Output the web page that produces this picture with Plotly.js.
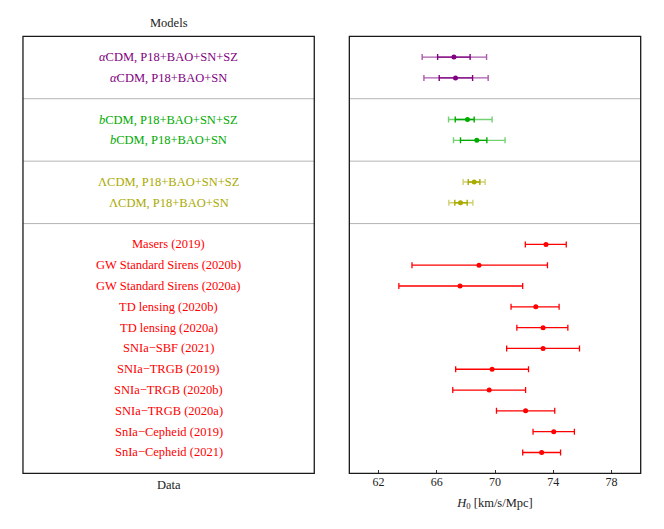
<!DOCTYPE html>
<html><head><meta charset="utf-8">
<script src="https://cdn.plot.ly/plotly-3.0.1.min.js"></script>
<style>html,body{margin:0;padding:0;background:#fff}#chart{width:664px;height:529px}</style>
</head><body><div id="chart"></div>
<script>
// ---- data ----
const modelLabels = ["<i>α</i>CDM, P18+BAO+SN+SZ", "<i>α</i>CDM, P18+BAO+SN",
  "<i>b</i>CDM, P18+BAO+SN+SZ", "<i>b</i>CDM, P18+BAO+SN",
  "ΛCDM, P18+BAO+SN+SZ", "ΛCDM, P18+BAO+SN"];
const modelRows = [1, 2, 4, 5, 7, 8];
const modelH0 = [67.18, 67.29, 68.11, 68.75, 68.57, 67.63];
const model1sigLo = [1.12, 1.12, 0.84, 1.12, 0.41, 0.39];
const model1sigHi = [1.11, 1.17, 0.46, 0.69, 0.39, 0.46];
const model2sigLo = [2.18, 2.17, 1.30, 1.60, 0.76, 0.80];
const model2sigHi = [2.24, 2.24, 1.69, 1.94, 0.75, 0.85];
const modelGroupColors = ["#800080", "#00aa00", "#aaaa00"];
const modelGroupLight = ["rgba(128,0,128,0.65)", "rgba(0,170,0,0.55)", "rgba(170,170,0,0.55)"];

const dataLabels = ["Masers (2019)", "GW Standard Sirens (2020b)", "GW Standard Sirens (2020a)",
  "TD lensing (2020b)", "TD lensing (2020a)", "SNIa−SBF (2021)", "SNIa−TRGB (2019)",
  "SNIa−TRGB (2020b)", "SNIa−TRGB (2020a)", "SnIa−Cepheid (2019)", "SnIa−Cepheid (2021)"];
const dataRows = [10, 11, 12, 13, 14, 15, 16, 17, 18, 19, 20];
const dataH0 = [73.5, 68.9, 67.6, 72.8, 73.3, 73.3, 69.8, 69.6, 72.1, 74.03, 73.2];
const dataErrLo = [1.42, 4.6, 4.2, 1.7, 1.8, 2.5, 2.5, 2.5, 2.0, 1.42, 1.3];
const dataErrHi = [1.39, 4.7, 4.3, 1.6, 1.7, 2.5, 2.5, 2.5, 2.0, 1.42, 1.3];
const separatorRows = [3, 6, 9];
const xTicks = [62, 66, 70, 74, 78];

// ---- traces ----
const traces = [];
const annotations = [];
const FONT = "Liberation Serif, DejaVu Serif, serif";
for (let g = 0; g < 3; g++) {
  const idx = [2 * g, 2 * g + 1];
  const pick = a => idx.map(i => a[i]);
  traces.push({
    type: "scatter", mode: "markers", xaxis: "x2", yaxis: "y",
    x: pick(modelH0), y: pick(modelRows),
    marker: {size: 1, color: "rgba(0,0,0,0)"},
    error_x: {type: "data", symmetric: false, array: pick(model2sigHi), arrayminus: pick(model2sigLo),
      color: modelGroupLight[g], thickness: 1.4, width: 3},
    hoverinfo: "skip", showlegend: false
  });
  traces.push({
    type: "scatter", mode: "markers", xaxis: "x2", yaxis: "y",
    x: pick(modelH0), y: pick(modelRows),
    marker: {size: 5, color: modelGroupColors[g]},
    error_x: {type: "data", symmetric: false, array: pick(model1sigHi), arrayminus: pick(model1sigLo),
      color: modelGroupColors[g], thickness: 1.4, width: 3},
    showlegend: false
  });
}
traces.push({
  type: "scatter", mode: "markers", xaxis: "x2", yaxis: "y",
  x: dataH0, y: dataRows,
  marker: {size: 5, color: "#ff0000"},
  error_x: {type: "data", symmetric: false, array: dataErrHi, arrayminus: dataErrLo,
    color: "#ff0000", thickness: 1.3, width: 3},
  showlegend: false
});

modelLabels.forEach((t, i) => annotations.push({
  xref: "x", yref: "y", x: 0.5, y: modelRows[i], text: t, showarrow: false,
  font: {family: FONT, size: 12.5, color: modelGroupColors[Math.floor(i / 2)]}
}));
dataLabels.forEach((t, i) => annotations.push({
  xref: "x", yref: "y", x: 0.5, y: dataRows[i], text: t, showarrow: false,
  font: {family: FONT, size: 12.5, color: "#ff0000"}
}));
annotations.push({xref: "x", yref: "paper", x: 0.5, y: 0.9314, yanchor: "middle", yshift: 13, text: "Models",
  showarrow: false, font: {family: FONT, size: 12.5, color: "#222"}});
annotations.push({xref: "x", yref: "paper", x: 0.5, y: 0.1053, yanchor: "middle", yshift: -12, text: "Data",
  showarrow: false, font: {family: FONT, size: 12.5, color: "#222"}});

const shapes = [];
separatorRows.forEach(r => {
  ["x", "x2"].forEach(ax => shapes.push({
    type: "line", xref: ax + " domain", yref: "y", x0: 0, x1: 1, y0: r, y1: r,
    line: {color: "#b4b4b4", width: 1}
  }));
});
["x", "x2"].forEach(ax => shapes.push({
  type: "rect", xref: ax + " domain", yref: "y domain", x0: 0, x1: 1, y0: 0, y1: 1,
  line: {color: "#1a1a1a", width: 1.3}
}));

const layout = {
  width: 664, height: 529,
  margin: {l: 0, r: 0, t: 0, b: 0},
  paper_bgcolor: "#fff", plot_bgcolor: "#fff",
  showlegend: false,
  xaxis: {domain: [0.0346, 0.4733], range: [0, 1], showgrid: false, zeroline: false,
    showticklabels: false, ticks: "", fixedrange: true},
  xaxis2: {domain: [0.5261, 0.9649], range: [60, 80], anchor: "y", showgrid: false, zeroline: false,
    tickvals: xTicks, ticktext: xTicks.map(String), ticks: "inside", ticklen: 3, tickcolor: "#333",
    tickfont: {family: FONT, size: 12, color: "#222"},
    title: {text: "<i>H</i><sub>0</sub> [km/s/Mpc]", font: {family: FONT, size: 12.5, color: "#222"}, standoff: 9},
    showline: false},
  yaxis: {domain: [0.1053, 0.9314], range: [21, 0], showgrid: false, zeroline: false,
    showticklabels: false, ticks: ""},
  annotations: annotations,
  shapes: shapes
};
Plotly.newPlot("chart", traces, layout, {displayModeBar: false, staticPlot: true});
</script></body></html>
